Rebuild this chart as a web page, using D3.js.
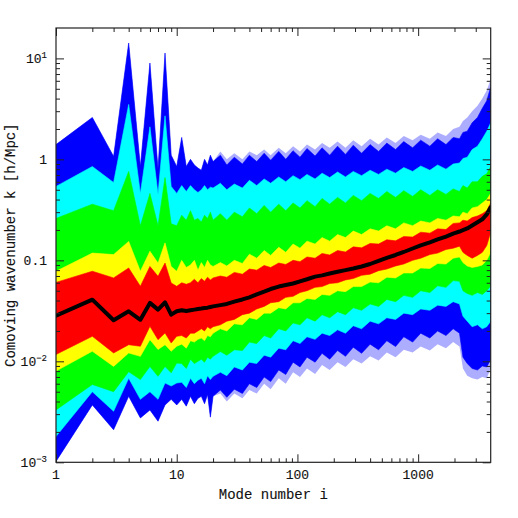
<!DOCTYPE html>
<html>
<head>
<meta charset="utf-8">
<script src="https://cdn.jsdelivr.net/npm/d3@7"></script>
<style>
  html, body { margin: 0; padding: 0; background: #fff; }
  text { font-family: "Liberation Mono", "DejaVu Sans Mono", monospace; fill: #111; stroke: #111; stroke-width: 0.12px; }
</style>
</head>
<body>
<div id="chart"></div>
<script>
// mode number i (x) and percentile envelopes of k (y)
const modes = [1,2,3,4,5,6,7,8,9,10,11,12,13,14,15,16,17,18,19,20,
  23,26,30,35,40,46,53,60,70,80,92,105,120,140,160,185,215,250,290,340,
  400,470,550,650,760,900,1050,1250,1450,1700,1950,2200,2350,2550,2800,3100,3400,3700,3990]

// faint fringe of thin blue spikes outside the solid blue band
const blueFringeUpper = [1.4,2.6,1.07,14.2,0.85,9.0,0.8,11.3,1.1,0.85,
  1.65,0.85,1.0,0.88,0.82,0.78,1.0,0.88,1.1,0.95,
  1.2,1.0,1.15,1.0,1.2,1.1,1.25,1.1,1.3,1.15,
  1.35,1.2,1.4,1.25,1.45,1.3,1.5,1.3,1.55,1.35,
  1.6,1.4,1.65,1.45,1.7,1.55,1.75,1.6,1.85,1.7,
  2.0,2.1,2.4,2.6,3.0,3.4,4.0,4.8,6.2]
const blueFringeLower = [0.00102,0.0037,0.0021,0.0045,0.00275,0.0033,0.00255,0.0037,0.0042,0.0037,
  0.0042,0.0036,0.0045,0.0038,0.0043,0.0045,0.0038,0.0047,0.0028,0.0045,
  0.0048,0.004,0.0048,0.0043,0.0052,0.0048,0.006,0.0053,0.0068,0.006,
  0.0078,0.007,0.0085,0.0075,0.0092,0.0082,0.0098,0.0088,0.0105,0.0095,
  0.0112,0.0102,0.0122,0.011,0.013,0.0122,0.014,0.0128,0.0148,0.0135,
  0.0155,0.014,0.0085,0.0072,0.0068,0.0066,0.007,0.0068,0.0085]

const blueUpper = [1.4,2.6,1.07,14.2,0.85,9.0,0.8,11.3,1.1,0.85,
  1.65,0.85,1.0,0.88,0.82,0.78,1.0,0.88,1.1,0.95,
  1.1,0.88,1.05,0.9,1.1,0.95,1.15,0.98,1.2,1.0,
  1.22,1.05,1.28,1.08,1.3,1.1,1.35,1.12,1.38,1.15,
  1.4,1.2,1.45,1.25,1.5,1.3,1.55,1.35,1.6,1.4,
  1.65,1.6,1.85,1.9,2.3,2.6,3.2,3.8,5.2]
const cyanUpper = [0.54,0.85,0.59,3.5,0.46,2.1,0.45,2.7,0.54,0.46,
  0.55,0.48,0.55,0.5,0.47,0.5,0.55,0.5,0.53,0.52,
  0.58,0.5,0.57,0.52,0.62,0.55,0.64,0.58,0.67,0.6,
  0.69,0.63,0.71,0.64,0.73,0.66,0.75,0.67,0.76,0.69,
  0.78,0.71,0.8,0.73,0.83,0.76,0.86,0.78,0.88,0.8,
  0.9,0.92,1.02,1.05,1.25,1.35,1.6,1.9,2.3]
const greenUpper = [0.26,0.36,0.31,0.76,0.22,0.46,0.22,0.66,0.23,0.22,
  0.28,0.25,0.31,0.25,0.26,0.24,0.28,0.26,0.3,0.25,
  0.29,0.25,0.3,0.27,0.33,0.29,0.35,0.3,0.36,0.31,
  0.37,0.33,0.39,0.34,0.41,0.36,0.42,0.37,0.44,0.39,
  0.46,0.41,0.48,0.42,0.49,0.43,0.5,0.44,0.5,0.45,
  0.51,0.48,0.55,0.52,0.6,0.6,0.68,0.72,0.85]
const yellowUpper = [0.078,0.118,0.114,0.154,0.078,0.123,0.094,0.149,0.087,0.078,
  0.1,0.085,0.09,0.1,0.08,0.095,0.085,0.1,0.09,0.087,
  0.095,0.088,0.1,0.093,0.115,0.105,0.125,0.112,0.135,0.12,
  0.145,0.132,0.155,0.145,0.168,0.155,0.18,0.168,0.195,0.18,
  0.205,0.195,0.22,0.205,0.235,0.22,0.245,0.235,0.26,0.25,
  0.275,0.27,0.3,0.29,0.33,0.34,0.37,0.4,0.46]
const redUpper = [0.0605,0.078,0.067,0.084,0.0553,0.087,0.0695,0.094,0.0597,0.0553,
  0.06,0.058,0.06,0.065,0.06,0.066,0.062,0.068,0.064,0.067,
  0.07,0.068,0.076,0.073,0.082,0.08,0.089,0.085,0.094,0.091,
  0.1,0.097,0.108,0.105,0.117,0.113,0.125,0.121,0.136,0.133,
  0.147,0.145,0.16,0.156,0.172,0.17,0.19,0.186,0.205,0.202,
  0.232,0.235,0.25,0.245,0.265,0.275,0.29,0.31,0.37]
const median = [0.0283,0.0408,0.0255,0.0313,0.0258,0.0379,0.0325,0.0384,0.029,0.0313,
  0.032,0.0315,0.032,0.0325,0.033,0.0333,0.0337,0.034,0.0345,0.035,
  0.036,0.037,0.039,0.041,0.043,0.046,0.049,0.052,0.055,0.057,
  0.059,0.062,0.065,0.069,0.071,0.074,0.077,0.08,0.083,0.087,
  0.092,0.099,0.106,0.113,0.121,0.131,0.141,0.151,0.161,0.172,
  0.184,0.193,0.199,0.207,0.221,0.238,0.255,0.285,0.335]
const redLower = [0.0117,0.0177,0.0121,0.0146,0.0141,0.0222,0.0164,0.0191,0.0152,0.0177,
  0.018,0.017,0.019,0.019,0.02,0.021,0.02,0.022,0.021,0.022,
  0.023,0.025,0.026,0.029,0.03,0.033,0.035,0.038,0.039,0.043,
  0.044,0.048,0.05,0.054,0.055,0.059,0.06,0.064,0.066,0.071,
  0.073,0.079,0.082,0.088,0.092,0.1,0.105,0.114,0.118,0.128,
  0.132,0.138,0.12,0.112,0.105,0.112,0.12,0.14,0.19]
const yellowLower = [0.008,0.0126,0.0089,0.0121,0.0112,0.0164,0.0131,0.0146,0.0126,0.0141,
  0.0148,0.0135,0.016,0.0155,0.0165,0.017,0.016,0.018,0.0175,0.019,
  0.021,0.02,0.0235,0.023,0.027,0.026,0.03,0.03,0.034,0.033,
  0.038,0.038,0.042,0.041,0.046,0.045,0.05,0.049,0.055,0.055,
  0.061,0.06,0.068,0.067,0.075,0.075,0.084,0.083,0.093,0.092,
  0.105,0.108,0.095,0.088,0.085,0.087,0.09,0.1,0.12]
const greenLower = [0.0033,0.0059,0.005,0.0079,0.0066,0.0089,0.0071,0.0089,0.0077,0.0096,
  0.0095,0.0085,0.0105,0.0095,0.01,0.0105,0.0098,0.011,0.0105,0.0112,
  0.0125,0.0115,0.013,0.0128,0.0155,0.015,0.018,0.017,0.021,0.02,
  0.024,0.023,0.027,0.025,0.029,0.027,0.031,0.029,0.034,0.032,
  0.037,0.035,0.041,0.039,0.045,0.043,0.05,0.048,0.056,0.054,
  0.063,0.062,0.05,0.047,0.045,0.048,0.046,0.05,0.056]
const cyanLower = [0.0018,0.005,0.0032,0.0068,0.0042,0.005,0.0042,0.0061,0.0057,0.0061,
  0.0062,0.0055,0.0068,0.006,0.0065,0.0068,0.006,0.0072,0.0066,0.0071,
  0.0078,0.0072,0.0088,0.0082,0.0098,0.0095,0.0115,0.011,0.0135,0.013,
  0.016,0.015,0.0175,0.0165,0.019,0.018,0.0205,0.019,0.0225,0.021,
  0.025,0.0235,0.027,0.026,0.03,0.029,0.033,0.032,0.036,0.035,
  0.039,0.037,0.028,0.025,0.022,0.023,0.021,0.022,0.025]
const blueLower = [0.00102,0.0037,0.0021,0.0045,0.00275,0.0033,0.00255,0.0037,0.0042,0.0037,
  0.0042,0.0036,0.0045,0.0038,0.0043,0.0045,0.0038,0.0047,0.0028,0.0045,
  0.0052,0.0044,0.0053,0.0048,0.006,0.0055,0.007,0.0063,0.0082,0.0074,
  0.0098,0.0088,0.011,0.0098,0.012,0.0105,0.0128,0.0112,0.0138,0.012,
  0.0148,0.013,0.016,0.014,0.0175,0.0155,0.019,0.017,0.02,0.018,
  0.021,0.019,0.011,0.0095,0.0085,0.0082,0.009,0.0088,0.0105]

const xTickLabels = ['1', '10', '100', '1000']
const yTickLabels = [
  { v: 10, base: '10', sup: '1' },
  { v: 1, base: '1', sup: '' },
  { v: 0.1, base: '0.1', sup: '' },
  { v: 0.01, base: '10', sup: '\u22122' },
  { v: 0.001, base: '10', sup: '\u22123' }
]

const W = 518, H = 518
const margin = { top: 28, right: 27.3, bottom: 55.7, left: 56 }
const x0 = margin.left, x1 = W - margin.right,
      y0 = margin.top, y1 = H - margin.bottom

const xScale = d3.scaleLog().domain([1, 3990]).range([x0, x1])
const yScale = d3.scaleLog().domain([1e-3, 20]).range([y1, y0])

const svg = d3.select('#chart').append('svg')
  .attr('width', W)
  .attr('height', H)

svg.append('clipPath').attr('id', 'plot-clip')
  .append('rect')
  .attr('x', x0).attr('y', y0)
  .attr('width', x1 - x0).attr('height', y1 - y0)

const plotArea = svg.append('g').attr('clip-path', 'url(#plot-clip)')

// outer to inner, each painted over the previous one
const bands = [
  { color: '#6a6aff', hi: blueFringeUpper, lo: blueFringeLower, opacity: 0.55 },
  { color: '#0000ff', hi: blueUpper, lo: blueLower },
  { color: '#00ffff', hi: cyanUpper, lo: cyanLower },
  { color: '#00ff00', hi: greenUpper, lo: greenLower },
  { color: '#ffff00', hi: yellowUpper, lo: yellowLower },
  { color: '#ff0000', hi: redUpper, lo: redLower }
]

const area = d3.area()
  .x(d => xScale(d.i))
  .y0(d => yScale(d.lo))
  .y1(d => yScale(d.hi))

bands.forEach(b => {
  const rows = modes.map((m, k) => ({ i: m, hi: b.hi[k], lo: b.lo[k] }))
  plotArea.append('path')
    .datum(rows)
    .attr('d', area)
    .attr('fill', b.color)
    .attr('fill-opacity', b.opacity || 1)
    .attr('stroke', b.opacity ? 'none' : b.color)
    .attr('stroke-width', 0.6)
})

const line = d3.line()
  .x(d => xScale(d.i))
  .y(d => yScale(d.v))

plotArea.append('path')
  .datum(modes.map((m, k) => ({ i: m, v: median[k] })))
  .attr('d', line)
  .attr('fill', 'none')
  .attr('stroke', '#000')
  .attr('stroke-width', 4)
  .attr('stroke-linejoin', 'round')
  .attr('stroke-linecap', 'round')

// ticks on all four sides, pointing inward
const xMajor = [1, 10, 100, 1000]
const xMinor = xScale.ticks().filter(d => xMajor.indexOf(d) < 0)
const yMajor = [0.001, 0.01, 0.1, 1, 10]
const yMinor = yScale.ticks().filter(d => yMajor.indexOf(d) < 0 && d > 0.001 && d < 20)

const addAxis = (gen, vals, size, tx, ty) => {
  const g = svg.append('g')
    .attr('transform', 'translate(' + tx + ', ' + ty + ')')
    .call(gen.tickValues(vals).tickSize(size).tickFormat(''))
  g.select('.domain').remove()
  g.selectAll('line').attr('stroke', '#222').attr('stroke-width', 1)
}

addAxis(d3.axisBottom(xScale), xMajor, -8, 0, y1)
addAxis(d3.axisBottom(xScale), xMinor, -4, 0, y1)
addAxis(d3.axisTop(xScale), xMajor, -8, 0, y0)
addAxis(d3.axisTop(xScale), xMinor, -4, 0, y0)
addAxis(d3.axisLeft(yScale), yMajor, -8, x0, 0)
addAxis(d3.axisLeft(yScale), yMinor, -4, x0, 0)
addAxis(d3.axisRight(yScale), yMajor, -8, x1, 0)
addAxis(d3.axisRight(yScale), yMinor, -4, x1, 0)

svg.append('rect')
  .attr('x', x0).attr('y', y0)
  .attr('width', x1 - x0).attr('height', y1 - y0)
  .attr('fill', 'none')
  .attr('stroke', '#222')
  .attr('stroke-width', 1.2)

// tick labels
svg.append('g').selectAll('text')
  .data(xTickLabels).enter()
  .append('text')
  .attr('x', d => xScale(+d))
  .attr('y', y1 + 17)
  .attr('text-anchor', 'middle')
  .style('font-size', '13px')
  .text(d => d)

const yLab = svg.append('g').selectAll('text')
  .data(yTickLabels).enter()
  .append('text')
  .attr('x', x0 - 9)
  .attr('y', d => yScale(d.v) + 4.5)
  .attr('text-anchor', 'end')
  .style('font-size', '13px')
yLab.append('tspan').text(d => d.base)
yLab.append('tspan')
  .attr('dy', -5)
  .style('font-size', '9px')
  .text(d => d.sup)

svg.append('text')
  .attr('x', (x0 + x1) / 2)
  .attr('y', 499)
  .attr('text-anchor', 'middle')
  .style('font-size', '14px')
  .text('Mode number i')

svg.append('text')
  .attr('transform', 'translate(15, ' + (y0 + y1) / 2 + ') rotate(-90)')
  .attr('text-anchor', 'middle')
  .style('font-size', '14px')
  .text('Comoving wavenumber k [h/Mpc]')
</script>
</body>
</html>
